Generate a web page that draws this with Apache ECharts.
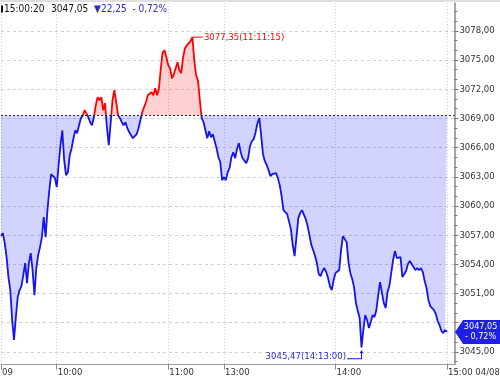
<!DOCTYPE html>
<html><head><meta charset="utf-8">
<script src="https://cdn.jsdelivr.net/npm/echarts@6/dist/echarts.min.js"></script>
<style>html,body{margin:0;padding:0;background:#fff;}#c{width:500px;height:379px;}</style>
</head><body><div id="c"></div>
<script>
const prevClose = 3069.30;
const lastTime = '15:00:20';
const peakTime = '11:11:15';
const lowTime = '14:13:00';
const tickIndex = [0, 30, 90, 120, 180, 240];
const tickText = ['09', '10:00', '11:00', '13:00', '14:00', '15:00 04/08'];
const yMin = 3042, yMax = 3081, yStep = 3;
const prices = [
3056.90,3057.21,3056.18,3054.75,3052.69,3051.36,3048.28,3046.22,3048.58,3050.64,
3051.36,3051.77,3052.90,3054.13,3052.07,3054.13,3055.16,3053.41,3050.84,3053.62,
3054.95,3055.77,3056.80,3058.85,3056.80,3059.57,3061.62,3063.27,3063.47,3062.86,
3061.93,3064.19,3066.24,3067.78,3064.70,3063.16,3063.47,3065.22,3065.94,3066.96,
3067.78,3067.48,3068.30,3069.02,3069.32,3069.84,3070.04,3069.12,3068.61,3068.30,
3069.12,3070.35,3071.17,3070.86,3071.17,3069.84,3070.56,3068.09,3066.24,3068.50,
3070.86,3071.89,3070.66,3069.32,3069.02,3068.61,3068.30,3068.61,3067.99,3067.58,
3067.27,3066.96,3066.76,3067.37,3067.99,3068.81,3069.63,3070.15,3070.66,3071.38,
3071.27,3071.69,3071.38,3072.10,3071.38,3072.10,3074.15,3075.79,3076.00,3075.28,
3074.46,3074.15,3073.12,3073.53,3074.15,3074.77,3073.94,3073.64,3075.28,3076.20,
3076.51,3076.31,3076.92,3077.35,3074.97,3073.43,3072.92,3070.86,3069.02,3068.61,
3067.78,3066.96,3067.68,3067.07,3067.37,3067.17,3065.94,3065.01,3064.50,3062.65,
3062.96,3062.65,3063.47,3063.88,3065.01,3065.52,3064.91,3065.83,3066.45,3065.52,
3064.91,3064.91,3064.40,3064.91,3066.14,3066.65,3066.86,3067.58,3068.50,3069.02,
3067.27,3065.32,3064.60,3064.19,3063.68,3063.06,3063.27,3063.47,3063.37,3062.86,
3062.14,3061.01,3059.57,3059.47,3059.16,3059.06,3057.62,3055.98,3054.85,3056.80,
3058.75,3059.26,3059.57,3059.57,3058.65,3057.93,3057.00,3055.98,3055.46,3054.85,
3054.13,3053.00,3052.79,3053.31,3053.62,3053.21,3052.59,3051.77,3051.36,3052.38,
3053.10,3053.21,3053.41,3055.46,3056.90,3056.70,3056.28,3054.23,3053.10,3052.49,
3051.66,3050.02,3049.20,3048.48,3045.47,3047.25,3048.79,3048.28,3047.46,3048.07,
3048.79,3048.58,3049.30,3050.84,3052.18,3052.07,3050.02,3049.51,3051.15,3051.77,
3053.10,3054.44,3055.36,3054.64,3054.64,3054.75,3052.69,3052.49,3053.31,3054.03,
3054.34,3054.03,3053.72,3053.41,3053.62,3053.41,3053.62,3053.21,3052.28,3051.56,
3050.33,3049.71,3049.61,3049.30,3048.89,3048.17,3047.76,3047.15,3046.94,3047.25,
3047.05
];

const pad = n => (n < 10 ? '0' : '') + n;
const categories = [];
for (let i = 0; i < 245; i++) {
  let t;
  if (i < 120) t = 9 * 60 + 30 + i; else t = 13 * 60 + (i - 120);
  categories.push(i <= 240 ? pad(Math.floor(t / 60)) + ':' + pad(t % 60) : '');
}
const FONT = '"DejaVu Sans Condensed","DejaVu Sans",sans-serif';
const fmt = v => v.toFixed(2).replace('.', ',');
const lastIdx = prices.length - 1;
const last = prices[lastIdx];
const chg = last - prevClose;
const pct = Math.abs(chg / prevClose * 100).toFixed(2).replace('.', ',');
const arrow = chg < 0 ? '▼' : '▲';
const sign = chg < 0 ? '- ' : '+ ';
const isTick = (i) => tickIndex.indexOf(i) >= 0;

const BLUE = '#1414f0', RED = '#ff0000';
const BLUE_FILL = 'rgba(20,20,255,0.19)', RED_FILL = 'rgba(255,0,0,0.18)';
const chart = echarts.init(document.getElementById('c'), null, {renderer: 'canvas'});
chart.setOption({
  animation: false,
  textStyle: {fontFamily: FONT},
  title: {
    left: 1, top: 4, padding: 0,
    text: '{k| }{t|' + lastTime + '}  {t|' + fmt(last) + '}  {b|' + arrow + fmt(Math.abs(chg)) + '}  {b|' + sign + pct + '%}',
    textStyle: {
      fontFamily: FONT, fontSize: 10, fontWeight: 'normal',
      rich: {
        k: {width: 2, height: 7, backgroundColor: '#111'},
        t: {fontFamily: FONT, fontSize: 10, color: '#111', padding: [0, 0, 0, 1]},
        b: {fontFamily: FONT, fontSize: 10, color: '#2a2ad8'}
      }
    }
  },
  graphic: [{type: 'rect', silent: true, z: 100, shape: {x: 0, y: 0, width: 500, height: 2}, style: {fill: '#dedede'}}],
  grid: [
    {left: 1, right: 45.6, top: 1.6, height: 379.5, outerBoundsMode: 'none', containLabel: false},
    {left: 1, right: 45.6, top: 3, bottom: 14.5, outerBoundsMode: 'none', containLabel: false}
  ],
  xAxis: [
    {gridIndex: 0, type: 'category', data: categories, boundaryGap: false, show: false},
    {gridIndex: 1, type: 'category', data: categories, boundaryGap: false,
     axisLine: {show: true, lineStyle: {color: '#999', width: 1}},
     axisTick: {show: true, interval: isTick, length: 5, lineStyle: {color: '#888'}},
     axisLabel: {interval: isTick, formatter: (v, i) => tickText[tickIndex.indexOf(i)] || '',
                 align: 'left', margin: 3, fontSize: 9.5, color: '#333', fontFamily: FONT, padding: [0, 0, 0, 1]},
     splitLine: {show: true, interval: isTick, lineStyle: {color: '#cfcfcf', type: [1, 2]}}}
  ],
  yAxis: [
    {gridIndex: 0, type: 'value', position: 'right', min: yMin, max: yMax, interval: yStep,
     axisLine: {show: false},
     axisTick: {show: true, length: 4, lineStyle: {color: '#777'}},
     minorTick: {show: true, splitNumber: 3, length: 3, lineStyle: {color: '#777'}},
     axisLabel: {show: true, margin: 5, fontSize: 9.5, color: '#333', fontFamily: FONT,
                 formatter: v => (v >= 3045 && v <= 3078 && Math.abs(v - last) > 1.5) ? fmt(v) : ''},
     splitLine: {show: true, lineStyle: {color: '#cfcfcf', type: [3, 3]}}},
    {gridIndex: 1, type: 'value', position: 'right',
     axisLine: {show: true, lineStyle: {color: '#888', width: 1.5}},
     axisTick: {show: false}, axisLabel: {show: false}, splitLine: {show: false}}
  ]
});

// split colour at the previous close, located through the library's own y scale
const yPix = chart.convertToPixel({yAxisIndex: 0}, prevClose);
const H = chart.getHeight();
const p = Math.min(1, Math.max(0, yPix / H));
const split = (top, bottom) => ({
  type: 'linear', x: 0, y: 0, x2: 0, y2: H, global: true,
  colorStops: [{offset: 0, color: top}, {offset: p, color: top}, {offset: p, color: bottom}, {offset: 1, color: bottom}]
});

chart.setOption({
  series: [{
    type: 'line', xAxisIndex: 0, yAxisIndex: 0, data: prices,
    showSymbol: false, symbol: 'none', animation: false,
    itemStyle: {color: BLUE},
    lineStyle: {width: 1.8, color: split(RED, BLUE)},
    areaStyle: {opacity: 1, origin: prevClose, color: split(RED_FILL, BLUE_FILL)},
    markLine: {
      silent: true, symbol: 'none', animation: false,
      label: {show: false},
      lineStyle: {color: '#222', type: [2, 2], width: 1},
      data: [{yAxis: prevClose}]
    },
    markPoint: {
      silent: true, animation: false,
      data: [
        {type: 'max', symbol: 'path://M0,0 L10,0 L10,1 L0,1 Z', symbolSize: [10, 1], symbolOffset: [5.5, 0],
         itemStyle: {color: RED},
         label: {show: true, position: 'right', distance: 1, color: RED, fontSize: 9.5, fontFamily: FONT,
                 formatter: q => fmt(q.value) + '(' + peakTime + ')'}},
        {type: 'min', symbol: 'path://M12.5,3 L14.5,0 L16.5,3 Z M14,3 L15,3 L15,9 L0,9 L0,8 L14,8 Z',
         symbolSize: [16.5, 9], symbolOffset: [-6.25, 7.5],
         itemStyle: {color: BLUE},
         label: {show: true, position: 'left', distance: 1, offset: [0, 2], color: '#2a2ad8', fontSize: 9.5, fontFamily: FONT,
                 formatter: q => fmt(q.value) + '(' + lowTime + ')'}},
        {coord: [lastIdx, last], value: last,
         symbol: 'path://M0,12 L8,0 L45,0 L45,24 L8,24 Z', symbolSize: [45, 24], symbolOffset: [30.6, 0],
         itemStyle: {color: '#1f1fe8'},
         label: {show: true, position: 'inside', offset: [3, 0], color: '#fff', fontSize: 9, lineHeight: 10, fontFamily: FONT,
                 formatter: () => fmt(last) + '\n' + sign + pct + '%'}}
      ]
    }
  }]
});
</script></body></html>
